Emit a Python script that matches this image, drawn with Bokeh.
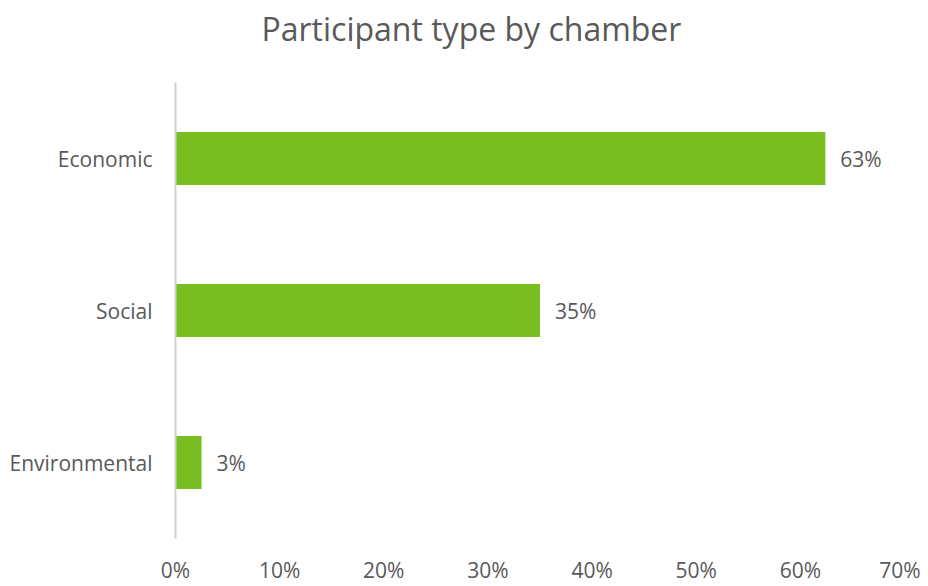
from bokeh.plotting import figure
from bokeh.models import ColumnDataSource, FixedTicker, PrintfTickFormatter, FactorRange, Range1d, Title
from bokeh.core.properties import value
from bokeh.embed import file_html
from bokeh.resources import INLINE

categories = ["Economic", "Social", "Environmental"]
shares = [62.4, 35.0, 2.5]
share_labels = ["63%", "35%", "3%"]
x_ticks = [0, 10, 20, 30, 40, 50, 60, 70]
title_text = "Participant type by chamber"

FONT = "Open Sans"
GREY = "#595959"

src = ColumnDataSource(dict(cat=categories, share=shares, lab=share_labels))

p = figure(width=920, height=586, output_backend="svg", toolbar_location=None,
           y_range=FactorRange(*categories[::-1], range_padding=0),
           x_range=Range1d(0, 70), title=None,
           min_border_left=175, min_border_right=16, min_border_bottom=37, min_border_top=82)

p.hbar(y="cat", right="share", left=0, height=0.35, source=src,
       fill_color="#78BE20", line_color=None)

p.text(x="share", y="cat", text="lab", source=src, x_offset=15,
       text_font=value(FONT), text_font_size="21px", text_color=GREY,
       text_baseline="middle", text_align="left")

# spacer between frame and title, then the real title above it
p.add_layout(Title(text=" ", text_font_size="2px", standoff=29), "above")
p.add_layout(Title(text=title_text, text_font=FONT, text_font_size="32px",
                   text_font_style="normal", text_color=GREY,
                   align="left", offset=86, standoff=0), "above")

p.xgrid.visible = False
p.ygrid.visible = False
p.outline_line_color = None

xa = p.xaxis[0]
xa.ticker = FixedTicker(ticks=x_ticks)
xa.formatter = PrintfTickFormatter(format="%d%%")
xa.axis_line_color = None
xa.major_tick_line_color = None
xa.minor_tick_line_color = None
xa.major_label_standoff = 11
xa.major_label_text_font = FONT
xa.major_label_text_font_size = "21px"
xa.major_label_text_color = GREY

ya = p.yaxis[0]
ya.axis_line_color = "#D0D0D0"
ya.axis_line_width = 2
ya.major_tick_line_color = None
ya.minor_tick_line_color = None
ya.major_label_standoff = 17
ya.major_label_text_font = FONT
ya.major_label_text_font_size = "21px"
ya.major_label_text_color = GREY

open("out.html", "w").write(file_html(p, INLINE))
